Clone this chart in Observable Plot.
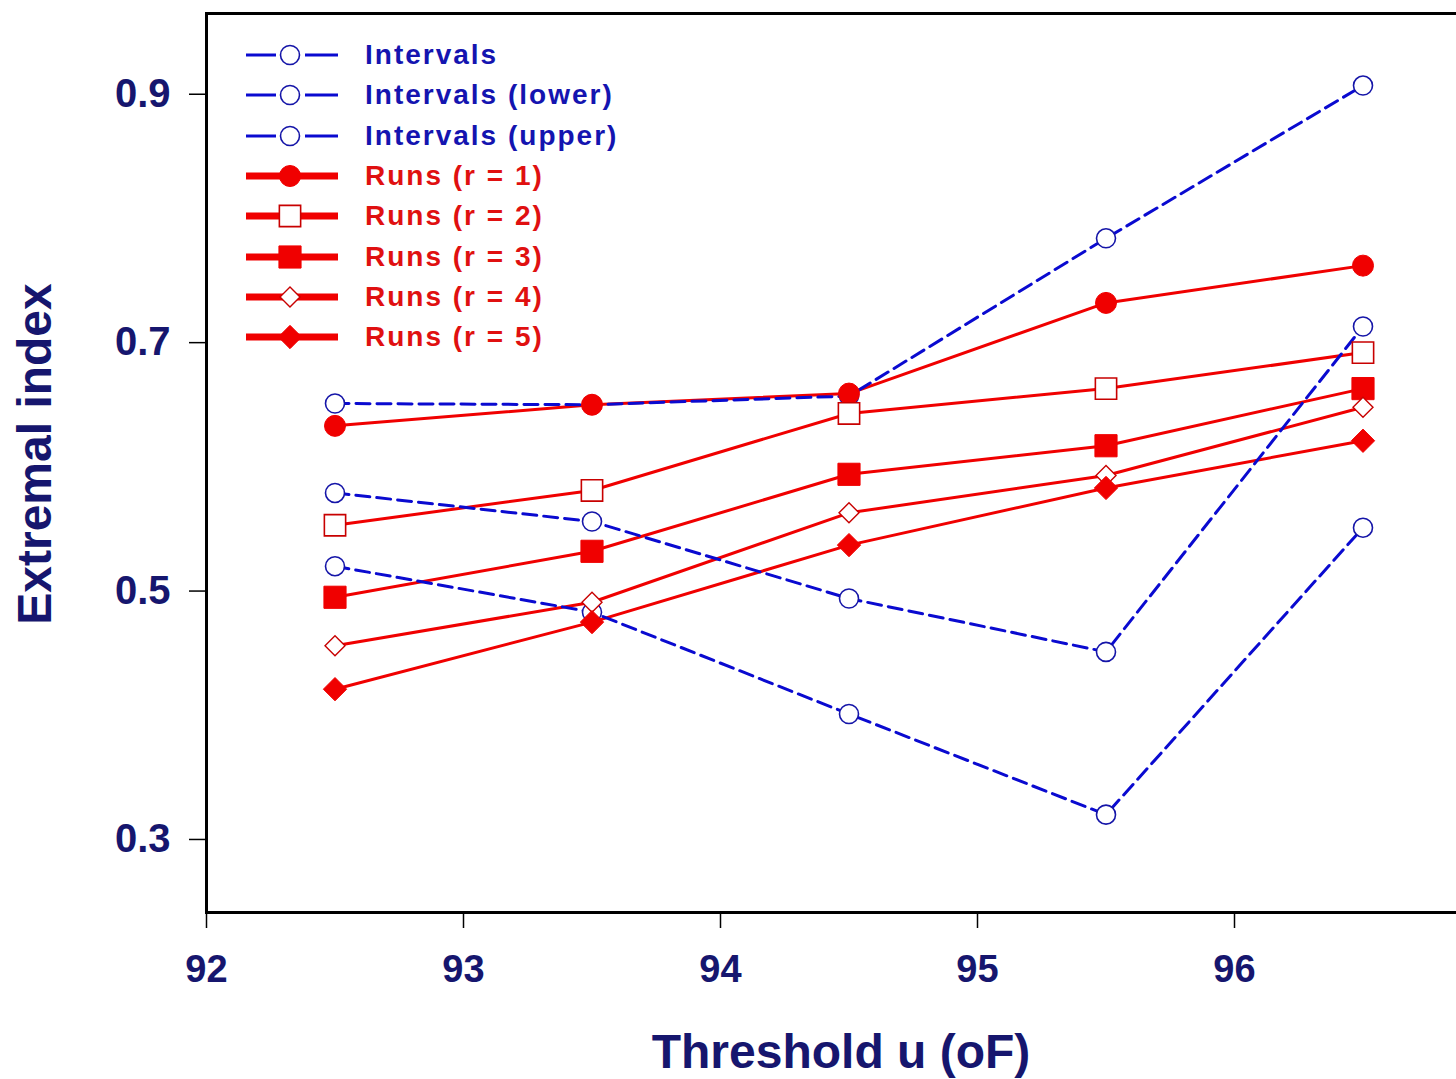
<!DOCTYPE html>
<html>
<head>
<meta charset="utf-8">
<script src="https://cdn.jsdelivr.net/npm/d3@7"></script>
<script src="https://cdn.jsdelivr.net/npm/@observablehq/plot@0.6"></script>
<style>
  html, body { margin: 0; padding: 0; background: #fff; overflow: hidden; width: 1456px; height: 1079px; }
  #chart { position: relative; width: 1456px; height: 1079px; overflow: hidden; }
  #chart > svg { max-width: none !important; width: 1496px; height: 1079px; display: block; }
  #legend { position: absolute; left: 244px; top: 35px; font-family: "Liberation Sans", Arial, sans-serif;
            font-weight: bold; font-size: 28px; letter-spacing: 2px; }
  #legend .row { display: flex; align-items: center; height: 40.3px; white-space: nowrap; }
  #legend .row svg { width: 100px; height: 40px; margin-right: 21px; flex: none; }
  #chart svg text { font-family: "Liberation Sans", Arial, sans-serif; }
</style>
</head>
<body>
<div id="chart"><div id="legend"></div></div>
<script>
// Extremal index estimates against threshold u (°F)
const thresholds = [92.5, 93.5, 94.5, 95.5, 96.5];

const intervals      = [0.579, 0.556, 0.494, 0.451, 0.713];
const intervalsLower = [0.520, 0.483, 0.401, 0.320, 0.551];
const intervalsUpper = [0.651, 0.650, 0.657, 0.784, 0.907];
const runs1 = [0.633, 0.650, 0.659, 0.732, 0.762];
const runs2 = [0.553, 0.581, 0.643, 0.663, 0.692];
const runs3 = [0.495, 0.532, 0.594, 0.617, 0.663];
const runs4 = [0.456, 0.491, 0.563, 0.593, 0.648];
const runs5 = [0.421, 0.475, 0.537, 0.583, 0.621];

const seriesNames = [
  "Intervals", "Intervals (lower)", "Intervals (upper)",
  "Runs (r = 1)", "Runs (r = 2)", "Runs (r = 3)", "Runs (r = 4)", "Runs (r = 5)"
];
const seriesValues = [intervals, intervalsLower, intervalsUpper, runs1, runs2, runs3, runs4, runs5];

const xTicks = [92, 93, 94, 95, 96];
const yTicks = [0.3, 0.5, 0.7, 0.9];

// Drawing styles for each series
const BLUE = "#0a0ad0", RED = "#f00000", NAVY = "#16166e";
const blueLine = {stroke: BLUE, strokeWidth: 3, strokeDasharray: "14,7"};
const redLine = {stroke: RED, strokeWidth: 3};
const openCircle = {symbol: "circle", r: 9.5, fill: "white", stroke: "#1515a8", strokeWidth: 1.6};
const styles = [
  {kind: "interval", line: blueLine, dot: openCircle},
  {kind: "interval", line: blueLine, dot: openCircle},
  {kind: "interval", line: blueLine, dot: openCircle},
  {kind: "runs", line: redLine, dot: {symbol: "circle", r: 10.5, fill: RED, stroke: RED, strokeWidth: 1}},
  {kind: "runs", line: redLine, dot: {symbol: "square", r: 12, fill: "white", stroke: "#c80000", strokeWidth: 1.6}},
  {kind: "runs", line: redLine, dot: {symbol: "square", r: 12.5, fill: RED, stroke: RED, strokeWidth: 1}},
  {kind: "runs", line: redLine, dot: {symbol: "diamond2", r: 9, fill: "white", stroke: "#c80000", strokeWidth: 1.4}},
  {kind: "runs", line: redLine, dot: {symbol: "diamond2", r: 10.5, fill: RED, stroke: RED, strokeWidth: 1}}
];

const rows = seriesNames.flatMap((name, i) =>
  thresholds.map((u, j) => ({series: name, u, value: seriesValues[i][j]})));
const of = (name) => rows.filter((d) => d.series === name);

const lineMark = (i) => Plot.line(of(seriesNames[i]), {x: "u", y: "value", ...styles[i].line});
const dotMark = (i) => Plot.dot(of(seriesNames[i]), {x: "u", y: "value", ...styles[i].dot});
const idx = (kind) => styles.map((s, i) => (s.kind === kind ? i : -1)).filter((i) => i >= 0);

const chart = Plot.plot({
  width: 1496,
  height: 1079,
  marginLeft: 206,
  marginRight: 5,
  marginTop: 13,
  marginBottom: 167,
  style: {background: "white", color: "black", fontFamily: "Liberation Sans, Arial, sans-serif", maxWidth: "none"},
  x: {domain: [92, 97]},
  y: {domain: [0.2412, 0.965]},
  marks: [
    Plot.frame({stroke: "black", strokeWidth: 3}),
    Plot.axisX({ticks: xTicks, tickFormat: "d", tickSize: 16, tickPadding: 27, stroke: "black", strokeWidth: 1.5,
                fill: NAVY, fontSize: 38, fontWeight: "bold", label: null}),
    Plot.axisY({ticks: yTicks, tickFormat: ".1f", tickSize: 17, tickPadding: 19, stroke: "black", strokeWidth: 1.5,
                fill: NAVY, fontSize: 40, fontWeight: "bold", label: null}),
    Plot.text(["Threshold u (oF)"], {frameAnchor: "bottom", dy: 140, dx: -8, textAnchor: "middle", lineAnchor: "middle",
                fill: NAVY, fontSize: 48, fontWeight: "bold"}),
    Plot.text(["Extremal index"], {frameAnchor: "left", dx: -171, dy: -9, rotate: -90, textAnchor: "middle", lineAnchor: "middle",
                fill: NAVY, fontSize: 48, fontWeight: "bold"}),
    ...idx("runs").map(lineMark),
    ...idx("interval").map(lineMark),
    ...idx("interval").map(dotMark),
    ...idx("runs").map(dotMark)
  ]
});
chart.style.maxWidth = "none";
document.getElementById("chart").prepend(chart);

// Legend laid over the upper-left corner of the plot area
const legend = d3.select("#legend");
seriesNames.forEach((name, i) => {
  const s = styles[i];
  const row = legend.append("div").attr("class", "row");
  const sw = row.append("svg").attr("viewBox", "0 0 100 40");
  if (s.kind === "interval") {
    sw.append("line").attr("x1", 2).attr("x2", 32).attr("y1", 20).attr("y2", 20).attr("stroke", BLUE).attr("stroke-width", 3);
    sw.append("line").attr("x1", 61).attr("x2", 94).attr("y1", 20).attr("y2", 20).attr("stroke", BLUE).attr("stroke-width", 3);
  } else {
    sw.append("line").attr("x1", 2).attr("x2", 94).attr("y1", 20).attr("y2", 20).attr("stroke", RED).attr("stroke-width", 7);
  }
  const symType = {circle: d3.symbolCircle, square: d3.symbolSquare, diamond2: d3.symbolDiamond2}[s.dot.symbol];
  sw.append("path")
    .attr("transform", "translate(46,20)")
    .attr("d", d3.symbol(symType, Math.PI * s.dot.r * s.dot.r)())
    .attr("fill", s.dot.fill).attr("stroke", s.dot.stroke).attr("stroke-width", s.dot.strokeWidth);
  row.append("span").text(name).style("color", s.kind === "interval" ? "#1414b0" : "#e01010");
});
</script>
</body>
</html>
